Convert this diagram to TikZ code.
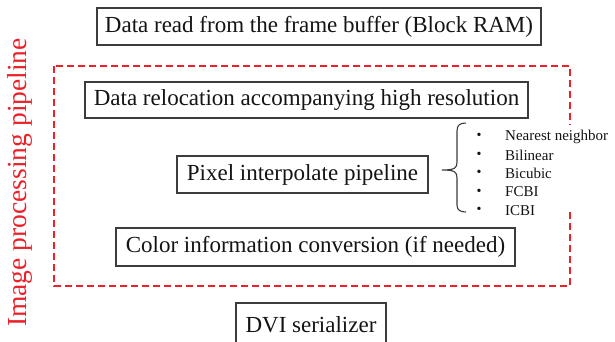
\documentclass[tikz,border=0pt]{standalone}
\usepackage{fontspec}
\setmainfont{Liberation Serif}
\definecolor{boxline}{RGB}{60,60,60}
\definecolor{txt}{RGB}{20,20,20}
\definecolor{pipered}{RGB}{236,32,40}
\begin{document}
\begin{tikzpicture}[x=1pt,y=-1pt,
  stagebox/.style={draw=boxline,line width=1.4pt,fill=white,text=txt,inner sep=0pt,
    font=\fontsize{23}{27}\selectfont},
  itemtxt/.style={text=txt,anchor=west,inner sep=0pt,font=\fontsize{15}{18}\selectfont},
  bul/.style={text=txt,inner sep=0pt,font=\fontsize{14}{16}\selectfont}]
\useasboundingbox (0,0) rectangle (615,341);
\begin{scope}
\clip (0,0) rectangle (615,341);
% pipeline frame
\draw[pipered,line width=2.2pt,dash pattern=on 7.3pt off 3.7pt] (54,66) rectangle (570,286);
\node[pipered,rotate=90,inner sep=0pt,font=\fontsize{27.5}{30}\selectfont] (lbl) at (20,182.5) {Image processing pipeline};
% boxes
\node[stagebox,minimum width=444,minimum height=37] (read) at (319,26.5) {Data read from the frame buffer (Block RAM)};
\node[stagebox,minimum width=443,minimum height=36] (reloc) at (306.5,100) {Data relocation accompanying high resolution};
\node[stagebox,minimum width=251,minimum height=37] (interp) at (302.5,174.5) {Pixel interpolate pipeline};
\node[stagebox,minimum width=399,minimum height=38] (color) at (315.5,247) {Color information conversion (if needed)};
\node[stagebox,minimum width=150,minimum height=44] (dvi) at (311,325) {DVI serializer};
% white panel behind the method list
\fill[white] (470,125) rectangle (613,211);
% brace
\draw[boxline,line width=1.1pt] (466,123) .. controls (460,123) and (457,125) .. (457,131) -- (457,162)
  .. controls (457,168) and (455,170) .. (442,170)
  .. controls (455,170) and (457,172) .. (457,178) -- (457,205)
  .. controls (457,210) and (460,212) .. (466,212);
% items
\foreach \t/\y [count=\i] in {Nearest neighbor/136.5,Bilinear/155,Bicubic/173.5,FCBI/192,ICBI/210.5}{
  \node[bul] (b\i) at (479,\y) {•};
  \node[itemtxt] (it\i) at (505,\y) {\t};
}
\end{scope}
\end{tikzpicture}
\end{document}
